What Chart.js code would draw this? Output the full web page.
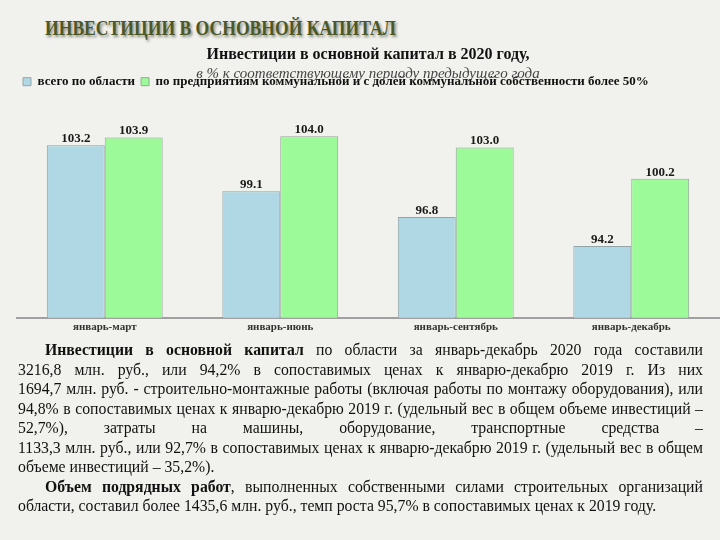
<!DOCTYPE html>
<html>
<head>
<meta charset="utf-8">
<script src="https://cdn.jsdelivr.net/npm/chart.js@4"></script>
<style>
  body { margin: 0; width: 720px; height: 540px; background: #f1f1ed; overflow: hidden; position: relative; font-family: "Liberation Serif", serif; }
  #head { position: absolute; left: 45px; top: 15px; font-size: 22px; font-weight: bold; color: #4a5828;
          text-shadow: 2px 2px 3px #8a8a80; transform: scaleX(0.8); transform-origin: left top; white-space: nowrap; }
  #chartBox { position: absolute; left: 0; top: 0; width: 720px; height: 345px; }
  #text { position: absolute; left: 18px; top: 340px; width: 685px; font-size: 15.75px; line-height: 19.5px; color: #111; }
  #text div { text-align: justify; text-align-last: justify; white-space: nowrap; }
  #text div.last { text-align-last: left; }
  #text div.ind { padding-left: 27px; }
</style>
</head>
<body>
<div id="head">ИНВЕСТИЦИИ В ОСНОВНОЙ КАПИТАЛ</div>
<div id="chartBox"><canvas id="investChart"></canvas></div>
<div id="text">
  <div class="ind"><b>Инвестиции в основной капитал</b> по области за январь-декабрь 2020 года составили</div>
  <div>3216,8 млн. руб., или 94,2% в сопоставимых ценах к январю-декабрю 2019 г. Из них</div>
  <div>1694,7 млн. руб. - строительно-монтажные работы (включая работы по монтажу оборудования), или</div>
  <div>94,8% в сопоставимых ценах к январю-декабрю 2019 г. (удельный вес в общем объеме инвестиций –</div>
  <div>52,7%), затраты на машины, оборудование, транспортные средства –</div>
  <div>1133,3 млн. руб., или 92,7% в сопоставимых ценах к январю-декабрю 2019 г. (удельный вес в общем</div>
  <div class="last">объеме инвестиций – 35,2%).</div>
  <div class="ind"><b>Объем подрядных работ</b>, выполненных собственными силами строительных организаций</div>
  <div class="last">области, составил более 1435,6 млн. руб., темп роста 95,7% в сопоставимых ценах к 2019 году.</div>
</div>
<script>
// Chart data
const periods = ["январь-март", "январь-июнь", "январь-сентябрь", "январь-декабрь"];
const regionTotal = [103.2, 99.1, 96.8, 94.2];
const municipal = [103.9, 104.0, 103.0, 100.2];

const seriesNames = ["всего по области", "по предприятиям коммунальной и с долей коммунальной собственности более 50%"];

// Value labels over bars
const valueLabels = {
    id: "valueLabels",
    afterDatasetsDraw(chart) {
        const ctx = chart.ctx;
        ctx.save();
        ctx.font = "bold 13px 'Liberation Serif'";
        ctx.fillStyle = "#1a1a1a";
        ctx.textAlign = "center";
        ctx.textBaseline = "alphabetic";
        chart.data.datasets.forEach((ds, i) => {
            chart.getDatasetMeta(i).data.forEach((bar, j) => {
                ctx.fillText(ds.data[j].toFixed(1), bar.x, bar.y - 3);
            });
        });
        ctx.restore();
    }
};

const ctx = document.getElementById("investChart").getContext("2d");
new Chart(ctx, {
    type: "bar",
    data: {
        labels: periods,
        datasets: [{
            label: seriesNames[0],
            data: regionTotal,
            backgroundColor: "#b0d8e4",
            borderColor: "#94a4a8",
            borderWidth: 1
        }, {
            label: seriesNames[1],
            data: municipal,
            backgroundColor: "#9cfb98",
            borderColor: "#94a898",
            borderWidth: 1
        }]
    },
    options: {
        responsive: true,
        maintainAspectRatio: false,
        animation: false,
        layout: { padding: { left: 17, right: 1, top: 0, bottom: 8 } },
        datasets: { bar: { barPercentage: 1, categoryPercentage: 0.66 } },
        plugins: {
            title: {
                display: true,
                text: "Инвестиции в основной капитал в 2020 году,",
                color: "#111",
                font: { family: "Liberation Serif", size: 16, weight: "bold" },
                padding: { top: 45, bottom: 0 }
            },
            subtitle: {
                display: true,
                text: "в % к соответствующему периоду предыдущего года",
                color: "#444",
                font: { family: "Liberation Serif", size: 15, style: "italic" },
                padding: { top: 1, bottom: -14 }
            },
            legend: {
                position: "top",
                align: "start",
                labels: {
                    color: "#111",
                    font: { family: "Liberation Serif", size: 13, weight: "bold" },
                    boxWidth: 8,
                    boxHeight: 8,
                    padding: 6
                }
            },
            tooltip: { enabled: false }
        },
        scales: {
            x: {
                grid: { display: false, drawTicks: false },
                border: { color: "#a0a0a0", width: 2 },
                ticks: { color: "#333", font: { family: "Liberation Serif", size: 11, weight: "bold" }, padding: 3 }
            },
            y: {
                display: false,
                min: 87.8,
                max: 107.4
            }
        }
    },
    plugins: [valueLabels]
});
</script>
</body>
</html>
